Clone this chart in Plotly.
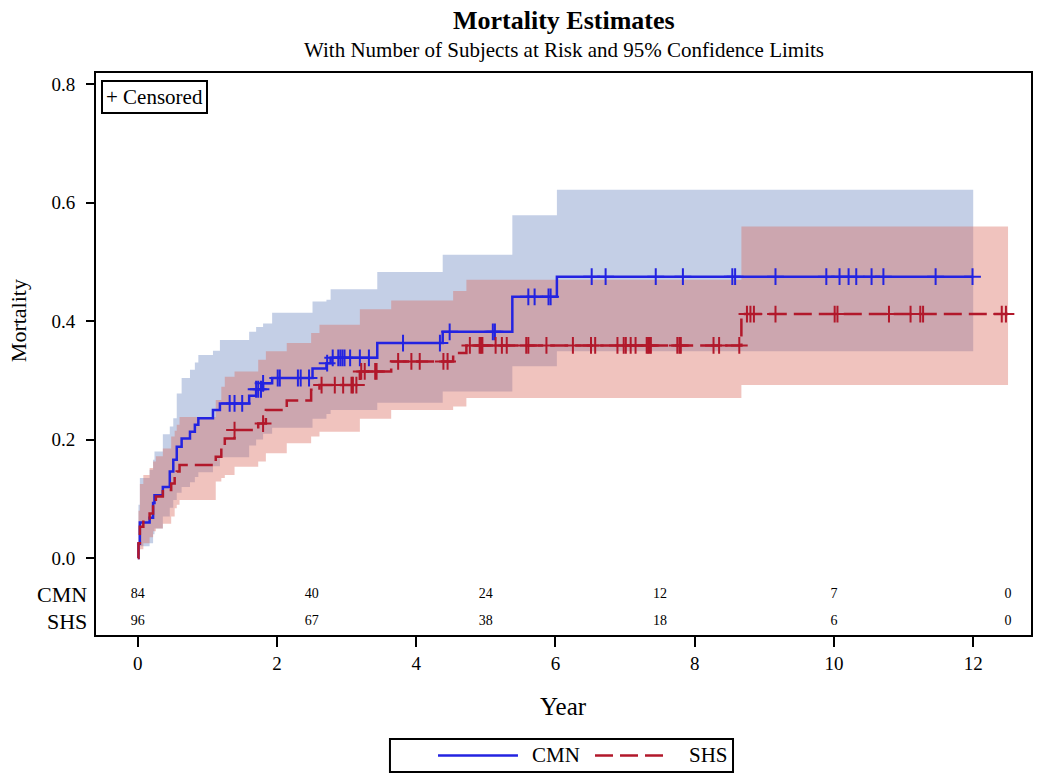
import numpy as np
import plotly.graph_objects as go

# ---------------- data ----------------
cmn_time = [0, 0.01, 0.03, 0.17, 0.22, 0.24, 0.36, 0.46, 0.51, 0.56, 0.63, 0.75, 0.82, 0.87,
            1.08, 1.18, 1.60, 1.70, 1.80, 1.93, 2.51, 2.71, 2.77, 3.44, 4.38, 5.38, 6.02, 12.0]
cmn_est = [0.0, 0.024, 0.06, 0.068, 0.093, 0.106, 0.12, 0.146, 0.166, 0.188, 0.202, 0.213, 0.225, 0.236,
           0.25, 0.261, 0.274, 0.285, 0.295, 0.304, 0.32, 0.329, 0.338, 0.363, 0.382, 0.441, 0.475, 0.475]
cmn_lcl = [0.0, 0.005, 0.02, 0.025, 0.04, 0.05, 0.07, 0.085, 0.098, 0.11, 0.12, 0.128, 0.137, 0.145,
           0.155, 0.17, 0.19, 0.20, 0.21, 0.22, 0.235, 0.243, 0.25, 0.262, 0.281, 0.324, 0.349, 0.349]
cmn_ucl = [0.0, 0.09, 0.135, 0.149, 0.166, 0.18, 0.209, 0.222, 0.236, 0.278, 0.304, 0.318, 0.33, 0.343,
           0.35, 0.368, 0.382, 0.39, 0.396, 0.414, 0.433, 0.436, 0.454, 0.483, 0.512, 0.579, 0.622, 0.622]
cmn_censor = [1.32, 1.39, 1.50, 1.70, 1.73, 1.77, 1.80, 2.01, 2.04, 2.30, 2.34, 2.46, 2.72, 2.80,
              2.88, 2.91, 2.94, 2.97, 3.05, 3.19, 3.32, 3.81, 4.34, 4.48, 5.10, 5.13, 5.61, 5.70,
              5.90, 5.93, 6.52, 6.72, 7.44, 7.83, 8.54, 8.58, 9.16, 9.89, 10.08, 10.21, 10.32,
              10.54, 10.71, 11.46, 11.99]

shs_time = [0, 0.01, 0.03, 0.08, 0.17, 0.22, 0.26, 0.36, 0.48, 0.53, 0.56, 0.60, 1.12, 1.20, 1.25,
            1.39, 1.73, 1.84, 2.14, 2.49, 2.61, 3.19, 3.64, 4.53, 4.72, 8.67, 12.5]
shs_est = [0.0, 0.025, 0.053, 0.064, 0.075, 0.095, 0.104, 0.115, 0.126, 0.137, 0.146, 0.157, 0.171,
           0.188, 0.202, 0.216, 0.227, 0.25, 0.266, 0.284, 0.292, 0.315, 0.332, 0.346, 0.359, 0.412, 0.412]
shs_lcl = [0.0, 0.005, 0.015, 0.025, 0.035, 0.045, 0.05, 0.058, 0.07, 0.084, 0.09, 0.098, 0.129,
           0.135, 0.14, 0.154, 0.163, 0.177, 0.194, 0.205, 0.213, 0.235, 0.25, 0.256, 0.27, 0.292, 0.292]
shs_ucl = [0.0, 0.08, 0.125, 0.14, 0.152, 0.163, 0.172, 0.185, 0.205, 0.215, 0.225, 0.238, 0.267,
           0.289, 0.306, 0.315, 0.335, 0.349, 0.363, 0.38, 0.394, 0.42, 0.435, 0.451, 0.47, 0.56, 0.56]
shs_censor = [1.39, 1.80, 2.64, 2.83, 2.95, 3.07, 3.09, 3.14, 3.21, 3.26, 3.41, 3.43, 3.74, 3.93,
              4.05, 4.39, 4.45, 4.77, 4.91, 4.93, 4.95, 5.14, 5.23, 5.30, 5.58, 5.61, 5.87, 6.25,
              6.51, 6.57, 6.89, 6.98, 7.01, 7.08, 7.15, 7.31, 7.33, 7.35, 7.37, 7.75, 7.78, 7.80,
              8.27, 8.35, 8.64, 8.75, 8.80, 8.85, 9.16, 10.01, 10.05, 10.79, 11.10, 11.24, 11.28,
              12.41, 12.47]

risk_time = [0, 2.5, 5, 7.5, 10, 12.5]
cmn_risk = [84, 40, 24, 12, 7, 0]
shs_risk = [96, 67, 38, 18, 6, 0]
group_names = ["CMN", "SHS"]
x_ticks = [0, 2, 4, 6, 8, 10, 12]
y_ticks = [0.0, 0.2, 0.4, 0.6, 0.8]

# ---------------- style ----------------
FONT = "Liberation Serif"
BLUE = "rgb(35,35,225)"
RED = "rgb(178,24,43)"
BLUE_FILL = "rgba(108,135,193,0.40)"
RED_FILL = "rgba(218,105,93,0.40)"
RED_DASH = "18px,7px"


def step_value(times, vals, t):
    idx = np.searchsorted(np.array(times), np.array(t), side="right") - 1
    return [vals[i] for i in idx]


fig = go.Figure()

# confidence bands
for times, lcl, ucl, fillc in [(cmn_time, cmn_lcl, cmn_ucl, BLUE_FILL),
                               (shs_time, shs_lcl, shs_ucl, RED_FILL)]:
    fig.add_trace(go.Scatter(x=times, y=lcl, mode="lines", line=dict(width=0, shape="hv"),
                             showlegend=False, hoverinfo="skip"))
    fig.add_trace(go.Scatter(x=times, y=ucl, mode="lines", line=dict(width=0, shape="hv"),
                             fill="tonexty", fillcolor=fillc, showlegend=False, hoverinfo="skip"))

# mortality step lines
fig.add_trace(go.Scatter(x=cmn_time, y=cmn_est, mode="lines", name=group_names[0],
                         line=dict(color=BLUE, width=2.5, shape="hv"), showlegend=False))
fig.add_trace(go.Scatter(x=shs_time, y=shs_est, mode="lines", name=group_names[1],
                         line=dict(color=RED, width=2.5, shape="hv", dash=RED_DASH),
                         showlegend=False))

# censor marks
fig.add_trace(go.Scatter(x=cmn_censor, y=step_value(cmn_time, cmn_est, cmn_censor), mode="markers",
                         marker=dict(symbol="cross-thin", size=12, line=dict(color=BLUE, width=2)),
                         showlegend=False, hoverinfo="skip"))
fig.add_trace(go.Scatter(x=shs_censor, y=step_value(shs_time, shs_est, shs_censor), mode="markers",
                         marker=dict(symbol="cross-thin", size=12, line=dict(color=RED, width=2)),
                         showlegend=False, hoverinfo="skip"))

# at-risk table
for row_y, counts in [(-0.061, cmn_risk), (-0.108, shs_risk)]:
    fig.add_trace(go.Scatter(x=risk_time, y=[row_y] * len(risk_time), mode="text",
                             text=[str(c) for c in counts],
                             textfont=dict(family=FONT, size=14, color="black"),
                             showlegend=False, hoverinfo="skip"))

annotations = [
    dict(text="<b>Mortality Estimates</b>", xref="paper", yref="paper", x=0.5, y=1.0943,
         xanchor="center", yanchor="middle", showarrow=False,
         font=dict(family=FONT, size=26, color="black")),
    dict(text="With Number of Subjects at Risk and 95% Confidence Limits", xref="paper",
         yref="paper", x=0.5, y=1.041, xanchor="center", yanchor="middle", showarrow=False,
         font=dict(family=FONT, size=21, color="black")),
    dict(text="+ Censored", xref="paper", yref="paper", x=0.0053, y=0.9875, xanchor="left",
         yanchor="top", showarrow=False, bordercolor="black", borderwidth=2, borderpad=3,
         bgcolor="white", font=dict(family=FONT, size=21, color="black")),
    dict(text="Mortality", xref="paper", yref="y", x=-0.0834, y=0.4, textangle=-90,
         xanchor="center", yanchor="middle", showarrow=False,
         font=dict(family=FONT, size=22, color="black")),
    dict(text="Year", xref="paper", yref="paper", x=0.5, y=-0.1281,
         xanchor="center", yanchor="middle", showarrow=False,
         font=dict(family=FONT, size=25, color="black")),
]
for row_y, name in [(-0.061, group_names[0]), (-0.108, group_names[1])]:
    annotations.append(dict(text=name, xref="paper", yref="y", x=-0.0075, y=row_y,
                            xanchor="right", yanchor="middle", showarrow=False,
                            font=dict(family=FONT, size=22, color="black")))

# legend (drawn as a framed key below the plot)
LEG_Y = -0.2144
shapes = [
    dict(type="rect", xref="paper", yref="paper", x0=0.3144, x1=0.6813, y0=-0.2438, y1=-0.1851,
         line=dict(color="black", width=2), fillcolor="white"),
    dict(type="line", xref="paper", yref="paper", x0=0.3658, x1=0.4513, y0=LEG_Y, y1=LEG_Y,
         line=dict(color=BLUE, width=2.5)),
    dict(type="line", xref="paper", yref="paper", x0=0.5337, x1=0.6118, y0=LEG_Y, y1=LEG_Y,
         line=dict(color=RED, width=2.5, dash=RED_DASH)),
]
annotations += [
    dict(text=group_names[0], xref="paper", yref="paper", x=0.4642, y=LEG_Y, xanchor="left",
         yanchor="middle", showarrow=False, font=dict(family=FONT, size=21, color="black")),
    dict(text=group_names[1], xref="paper", yref="paper", x=0.6321, y=LEG_Y, xanchor="left",
         yanchor="middle", showarrow=False, font=dict(family=FONT, size=21, color="black")),
]

fig.update_layout(
    width=1050, height=779,
    margin=dict(l=96, r=19, t=73, b=144),
    paper_bgcolor="white", plot_bgcolor="white",
    font=dict(family=FONT, size=19, color="black"),
    annotations=annotations,
    shapes=shapes,
    showlegend=False,
    xaxis=dict(range=[-0.6, 12.83], tickvals=x_ticks, showline=True, mirror=True,
               linecolor="black", linewidth=2, ticks="outside", ticklen=10, tickwidth=2,
               tickcolor="black", showgrid=False, zeroline=False, automargin=False,
               tickfont=dict(family=FONT, size=19)),
    yaxis=dict(range=[-0.13, 0.819], tickvals=y_ticks, tickformat=".1f", showline=True,
               mirror=True, linecolor="black", linewidth=2, ticks="outside", ticklen=8,
               tickwidth=2, tickcolor="black", showgrid=False, zeroline=False,
               automargin=False, ticklabelstandoff=7,
               tickfont=dict(family=FONT, size=19)),
)

fig.write_html("out.html", config={"displayModeBar": False},
               post_script="document.body.style.margin='0px';")
